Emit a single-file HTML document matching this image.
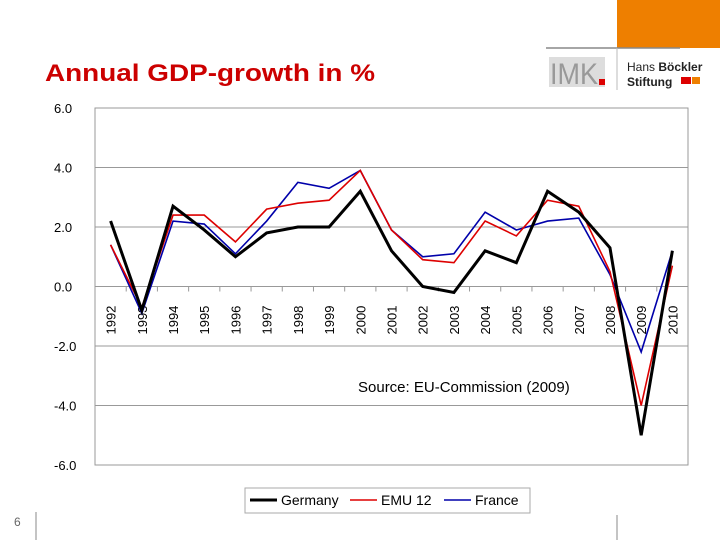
<!DOCTYPE html>
<html><head><meta charset="utf-8"><style>
body{margin:0;width:720px;height:540px;background:#fff;font-family:"Liberation Sans",Arial,sans-serif;overflow:hidden}
</style></head><body>
<svg width="720" height="540" viewBox="0 0 720 540" xmlns="http://www.w3.org/2000/svg" font-family="Liberation Sans, Arial, sans-serif">
<rect x="617" y="0" width="103" height="48" fill="#ee7f00"/>
<line x1="546" y1="48" x2="680" y2="48" stroke="#888" stroke-width="1.5"/>
<line x1="617" y1="48" x2="617" y2="90" stroke="#bbb"/>
<g>
<rect x="549" y="57" width="56" height="30" fill="#ddd"/>
<text x="550" y="84" font-size="30" fill="#999" textLength="48" lengthAdjust="spacingAndGlyphs">IMK</text>
<rect x="599" y="79" width="6" height="6" fill="#d00"/>
</g>
<g>
<text x="627" y="71" font-size="12" fill="#222">Hans <tspan font-weight="bold">Böckler</tspan></text>
<text x="627" y="86" font-size="12" font-weight="bold" fill="#222">Stiftung</text>
<rect x="681" y="77" width="10" height="7" fill="#d00"/><rect x="692" y="77" width="8" height="7" fill="#ee7f00"/>
</g>
<text x="45" y="81" font-size="24" font-weight="bold" fill="#cc0000" textLength="330" lengthAdjust="spacingAndGlyphs">Annual GDP-growth in %</text>
<text x="14" y="526" font-size="12" fill="#666">6</text>
<line x1="36" y1="512" x2="36" y2="540" stroke="#888"/>
<line x1="617" y1="515" x2="617" y2="540" stroke="#888"/>
<g id="chart"></g>
<text x="358" y="392" font-size="15" fill="#000">Source: EU-Commission (2009)</text>
<g>
<rect x="245" y="488" width="285" height="25" fill="#fff" stroke="#aaa"/>
<g><line x1="250" y1="500" x2="277" y2="500" stroke="#000" stroke-width="3"/><text x="281" y="505" font-size="14">Germany</text></g>
<g><line x1="350" y1="500" x2="377" y2="500" stroke="#d00" stroke-width="1.6"/><text x="381" y="505" font-size="14">EMU 12</text></g>
<g><line x1="444" y1="500" x2="471" y2="500" stroke="#00a" stroke-width="1.6"/><text x="475" y="505" font-size="14">France</text></g>
</g>
</svg>
<script>
const years=["1992","1993","1994","1995","1996","1997","1998","1999","2000","2001","2002","2003","2004","2005","2006","2007","2008","2009","2010"];
const germany=[2.2,-0.8,2.7,1.9,1.0,1.8,2.0,2.0,3.2,1.2,0.0,-0.2,1.2,0.8,3.2,2.5,1.3,-5.0,1.2];
const emu12=[1.4,-0.7,2.4,2.4,1.5,2.6,2.8,2.9,3.9,1.9,0.9,0.8,2.2,1.7,2.9,2.7,0.5,-4.0,0.7];
const france=[1.4,-0.9,2.2,2.1,1.1,2.2,3.5,3.3,3.9,1.9,1.0,1.1,2.5,1.9,2.2,2.3,0.4,-2.2,1.2];
const yTicks=[6,4,2,0,-2,-4,-6];
const NS="http://www.w3.org/2000/svg";
const L=95,R=688,T=108,B=465,ymin=-6,ymax=6;
const bw=(R-L)/years.length;
const xS=i=>L+bw*(i+0.5);
const yS=v=>T+(ymax-v)/(ymax-ymin)*(B-T);
const g=document.getElementById('chart');
function mk(t,a){const e=document.createElementNS(NS,t);for(const k in a)e.setAttribute(k,a[k]);g.appendChild(e);return e;}
const frame=mk('rect',{x:L,y:T,width:R-L,height:B-T,fill:'none',stroke:'#999'});


yTicks.forEach(v=>{
 if(v!==6&&v!==-6){const gl=mk('line',{x1:L,x2:R,y1:yS(v),y2:yS(v),stroke:'#999'});
 
 }
 const t=mk('text',{x:54,y:yS(v)+5,'font-size':13,fill:'#000'});
 t.textContent=v.toFixed(1);
 
 
});
years.forEach((y,i)=>{
 const tk=mk('line',{x1:L+bw*i,x2:L+bw*i,y1:yS(0),y2:yS(0)+5,stroke:'#999'});
 
 
 const x=xS(i)+5,yy=yS(0)+48;
 const t=mk('text',{x:x,y:yy,'font-size':13,transform:`rotate(-90 ${x} ${yy})`});
 t.textContent=y;
 
 
});
[[france,'#0000aa',1.6,'france-line'],[emu12,'#dd0000',1.6,'emu12-line'],[germany,'#000',3,'germany-line']].forEach(([d,c,w,n])=>{
 const p=mk('polyline',{points:d.map((v,i)=>xS(i)+','+yS(v)).join(' '),fill:'none',stroke:c,'stroke-width':w,'stroke-linejoin':'miter'});
 
 
});
</script>
</body></html>
